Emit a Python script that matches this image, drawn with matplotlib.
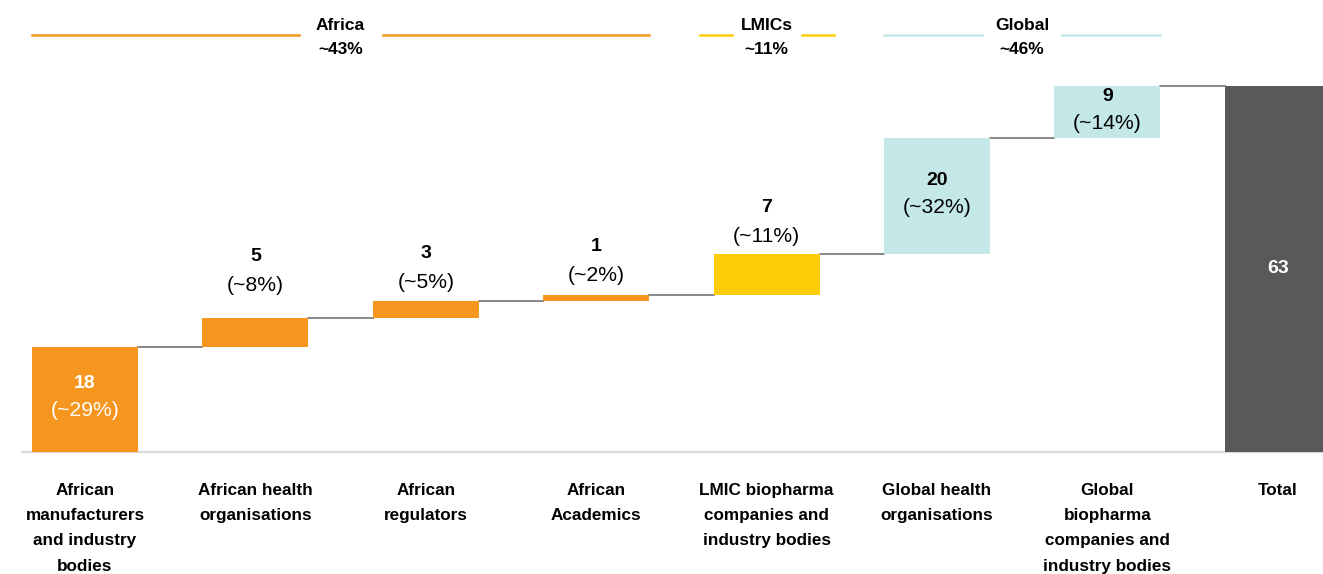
import numpy as np
import matplotlib.pyplot as plt

# stakeholder groups (waterfall steps) and their counts
categories = ["African\nmanufacturers\nand industry\nbodies", "African health\norganisations",
              "African\nregulators", "African\nAcademics",
              "LMIC biopharma\ncompanies and\nindustry bodies", "Global health\norganisations",
              "Global\nbiopharma\ncompanies and\nindustry bodies", "Total"]
values = [18, 5, 3, 1, 7, 20, 9]
shares = ["~29%", "~8%", "~5%", "~2%", "~11%", "~32%", "~14%"]
total = 63

groups = ["Africa", "LMICs", "Global"]
group_shares = ["~43%", "~11%", "~46%"]
group_first = [0, 4, 5]
group_last = [3, 4, 6]

ORANGE = "#F7961E"
YELLOW = "#FFCC08"
TEAL = "#C4E8E8"
DARK = "#58595B"
bar_colors = [ORANGE, ORANGE, ORANGE, ORANGE, YELLOW, TEAL, TEAL, DARK]
group_colors = [ORANGE, YELLOW, TEAL]

plt.rcParams['font.family'] = ['Liberation Sans', 'DejaVu Sans']

px_per_unit = 5.81
base_px = 452
fig = plt.figure(figsize=(13.23, 5.74), dpi=100)
ax = fig.add_axes([0, 0, 1, 1])
step = 170.4
ax.set_xlim(-85 / step, (1323 - 85) / step)
ax.set_ylim(-(574 - base_px) / px_per_unit, base_px / px_per_unit)
ax.axis('off')
u = 1 / px_per_unit  # one pixel in data units (vertical)

w = 106 / step
x = np.arange(len(categories))
bottoms = np.concatenate([[0], np.cumsum(values)[:-1]])
heights = values + [total]
bottoms = list(bottoms) + [0]
ax.bar(x, heights, width=w, bottom=bottoms, color=bar_colors, zorder=2)

# baseline
ax.plot([(22 - 85) / step, x[-1] + 1], [0, 0], color="#D9D9D9", lw=1.6, zorder=1)

# connectors
tops = np.cumsum(values)
for i in range(len(values)):
    ax.plot([x[i] + w / 2, x[i + 1] - w / 2], [tops[i], tops[i]], color="#7F7F7F", lw=1.3, zorder=1)

# value labels
inside = [0, 5, 6]
lift = [0, 15, 0, 2, 0, 0, 0]
for i, (v, s) in enumerate(zip(values, shares)):
    if i in inside:
        mid = bottoms[i] + v / 2
        col = "white" if i == 0 else "black"
        ax.text(x[i], mid + 16 * u, str(v), ha='center', va='center', fontsize=14, fontweight='bold', color=col)
        ax.text(x[i], mid - 11 * u, f"({s})", ha='center', va='center', fontsize=15.2, color=col)
    else:
        top = tops[i]
        ax.text(x[i], top + (47 + lift[i]) * u, str(v), ha='center', va='center', fontsize=14, fontweight='bold')
        ax.text(x[i], top + (18 + lift[i]) * u, f"({s})", ha='center', va='center', fontsize=15.2)
ax.text(x[-1], total / 2, str(total), ha='center', va='center', fontsize=14, fontweight='bold', color="white")

# category labels
for i, c in enumerate(categories):
    ax.text(x[i], -(483 - base_px) * u, c, ha='center', va='top', fontsize=12.3, fontweight='bold',
            linespacing=1.85)

# group brackets on top
line_y = (base_px - 35) * u
half_gap = [42 / step, 35 / step, 40 / step]
pad = [0, 14 / step, 0]
for g, name in enumerate(groups):
    x0 = x[group_first[g]] - w / 2 - pad[g]
    x1 = x[group_last[g]] + w / 2 + pad[g]
    xc = (x[group_first[g]] + x[group_last[g]]) / 2
    ax.plot([x0, xc - half_gap[g]], [line_y, line_y], color=group_colors[g], lw=1.8)
    ax.plot([xc + half_gap[g], x1], [line_y, line_y], color=group_colors[g], lw=1.8)
    ax.text(xc, (base_px - 25) * u, name, ha='center', va='center', fontsize=12.5, fontweight='bold')
    ax.text(xc, (base_px - 50) * u, group_shares[g], ha='center', va='center', fontsize=12.5, fontweight='bold')

fig.savefig("out.png", dpi=100)
